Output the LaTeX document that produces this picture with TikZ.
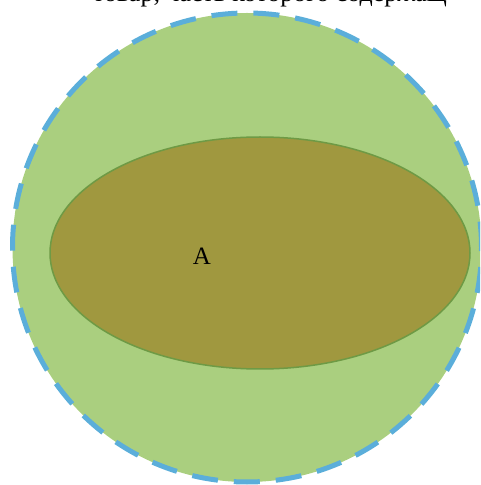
\documentclass[tikz,border=0pt]{standalone}
\usepackage{fontspec}
\setmainfont{Liberation Serif}
\usetikzlibrary{shapes.geometric}
\begin{document}
\begin{tikzpicture}[x=1pt,y=1pt,
  outer/.style={fill=outergreen, draw=dashblue, line width=5pt, dash pattern=on 26pt off 16pt},
  inner/.style={fill=olive2, draw=rimgreen, line width=1.5pt},
  lbl/.style={font=\fontsize{25}{30}\selectfont, text=black}]
\definecolor{outergreen}{HTML}{AACF7F}
\definecolor{olive2}{HTML}{A0983F}
\definecolor{rimgreen}{HTML}{6E9A45}
\definecolor{dashblue}{HTML}{5BAEDA}
\clip (0,0) rectangle (480,485);
\node[circle, minimum size=469pt, outer] (u) at (247,237.5) {};
\node[ellipse, minimum width=420pt, minimum height=232pt, inner] (a) at (260,232) {};
\node[lbl] (la) at (202,229) {A};
\node[anchor=base, font=\fontsize{26}{32}\selectfont] (t) at (270,483) {товар, часть которого содержащ};
\end{tikzpicture}
\end{document}
